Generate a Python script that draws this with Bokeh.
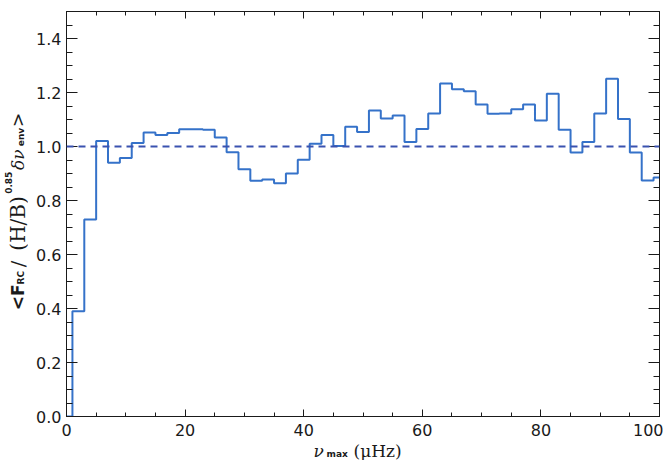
import math
from bokeh.plotting import figure
from bokeh.models import (Range1d, FixedTicker, LinearAxis, PrintfTickFormatter,
                          Span, ColumnDataSource)
from bokeh.layouts import row, column
from bokeh.core.properties import value
from bokeh.embed import file_html
from bokeh.resources import INLINE

# ---- data ----
numax = [0, 2, 4, 6, 8, 10, 12, 14, 16, 18, 20, 22, 24, 26, 28, 30, 32, 34, 36, 38,
         40, 42, 44, 46, 48, 50, 52, 54, 56, 58, 60, 62, 64, 66, 68, 70, 72, 74, 76, 78,
         80, 82, 84, 86, 88, 90, 92, 94, 96, 98, 100]
ratio = [0.00, 0.39, 0.73, 1.02, 0.94, 0.957, 1.013, 1.052, 1.043, 1.050, 1.064, 1.064,
         1.062, 1.033, 0.979, 0.916, 0.873, 0.878, 0.864, 0.900, 0.951, 1.010, 1.043,
         1.002, 1.073, 1.054, 1.133, 1.104, 1.115, 1.017, 1.065, 1.122, 1.233, 1.212,
         1.205, 1.156, 1.121, 1.122, 1.138, 1.156, 1.096, 1.195, 1.062, 0.978, 1.017,
         1.122, 1.251, 1.102, 0.978, 0.874, 0.885]
reference_level = 1.0
x_major = [0, 20, 40, 60, 80, 100]
x_minor = list(range(0, 101, 5))
y_major = [0.0, 0.2, 0.4, 0.6, 0.8, 1.0, 1.2, 1.4]
y_minor = [round(i * 0.05, 2) for i in range(0, 31)]

TOTAL_W, TOTAL_H = 663, 460
YL_W = 28          # strip holding the y-axis title
XL_H = 18          # strip holding the x-axis title
MAIN_W = TOTAL_W - YL_W
MAIN_H = TOTAL_H - XL_H
INK = "#1a1a1a"

# ---------------- main plot ----------------
p = figure(width=MAIN_W, height=MAIN_H, output_backend="svg", toolbar_location=None,
           x_range=Range1d(0, 100), y_range=Range1d(0, 1.5),
           min_border_left=66 - YL_W, min_border_right=4, min_border_top=11,
           min_border_bottom=MAIN_H - 416, background_fill_color="white",
           border_fill_color="white", outline_line_color=INK)
p.xgrid.visible = False
p.ygrid.visible = False

xt = FixedTicker(ticks=x_major, minor_ticks=x_minor)
yt = FixedTicker(ticks=y_major, minor_ticks=y_minor)


def style_axis(ax, major_in, minor_in, labels=True):
    ax.axis_line_color = INK
    ax.axis_line_width = 1
    ax.major_tick_line_color = INK
    ax.minor_tick_line_color = INK
    ax.major_tick_in = major_in
    ax.major_tick_out = 0
    ax.minor_tick_in = minor_in
    ax.minor_tick_out = 0
    ax.major_label_text_font = "DejaVu Sans"
    ax.major_label_text_font_size = "16px"
    if labels:
        ax.major_label_text_color = INK
    else:
        ax.major_label_text_color = None
        ax.major_label_standoff = 0


p.xaxis.ticker = xt
p.yaxis.ticker = yt
p.yaxis.formatter = PrintfTickFormatter(format="%.1f")
style_axis(p.xaxis[0], 7, 4)
style_axis(p.yaxis[0], 11, 6)
p.xaxis.major_label_standoff = 7
p.yaxis.major_label_standoff = 5

top = LinearAxis(ticker=xt)
style_axis(top, 7, 4, labels=False)
p.add_layout(top, "above")
right = LinearAxis(ticker=yt)
style_axis(right, 11, 6, labels=False)
p.add_layout(right, "right")

src = ColumnDataSource(dict(x=numax, y=ratio))
p.step(x="x", y="y", source=src, mode="center", line_width=2, line_color="#3572c9")
p.add_layout(Span(location=reference_level, dimension="width", line_color="#3a52b0",
                  line_width=2, line_dash="7 5"))


def strip(w, h, y0, y1):
    f = figure(width=w, height=h, output_backend="svg", toolbar_location=None,
               x_range=Range1d(0, w), y_range=Range1d(y1, y0),
               min_border=0, outline_line_color=None,
               background_fill_color="white", border_fill_color="white")
    f.axis.visible = False
    f.grid.visible = False
    return f


def piece(f, text, px, py, size, font="DejaVu Sans", style="normal", angle=0.0):
    f.text(x=[px], y=[py], text=[text], angle=angle, text_font=value(font),
           text_font_size=value(f"{size}px"), text_font_style=style,
           text_color=INK, text_align="left", text_baseline="alphabetic")


# ---------------- y-axis title strip (page pixel coordinates) ----------------
yl = strip(YL_W, MAIN_H, 0, MAIN_H)
rot = math.pi / 2
piece(yl, "<F", 17, 326, 17, style="bold", angle=rot)
piece(yl, "RC", 20, 298, 9, style="bold", angle=rot)
piece(yl, "/", 17, 279, 19, font="DejaVu Serif", angle=rot)
piece(yl, "(H/B)", 17, 261, 20, font="DejaVu Serif", angle=rot)
piece(yl, "0.85", 8, 199, 9, style="bold", angle=rot)
piece(yl, "δν", 17, 173, 17, font="DejaVu Serif", style="italic", angle=rot)
piece(yl, "env", 20, 147, 9, style="bold", angle=rot)
piece(yl, ">", 17, 126, 17, angle=rot)

# ---------------- x-axis title strip ----------------
xl = strip(TOTAL_W, XL_H, MAIN_H, TOTAL_H)
piece(xl, "ν", 313, 450, 17, font="DejaVu Serif", style="italic")
piece(xl, "max", 326, 453, 9, style="bold")
piece(xl, "(μHz)", 353, 450, 17, font="DejaVu Serif")

layout = column(row(yl, p, spacing=0), xl, spacing=0)
open("out.html", "w").write(file_html(layout, INLINE))
